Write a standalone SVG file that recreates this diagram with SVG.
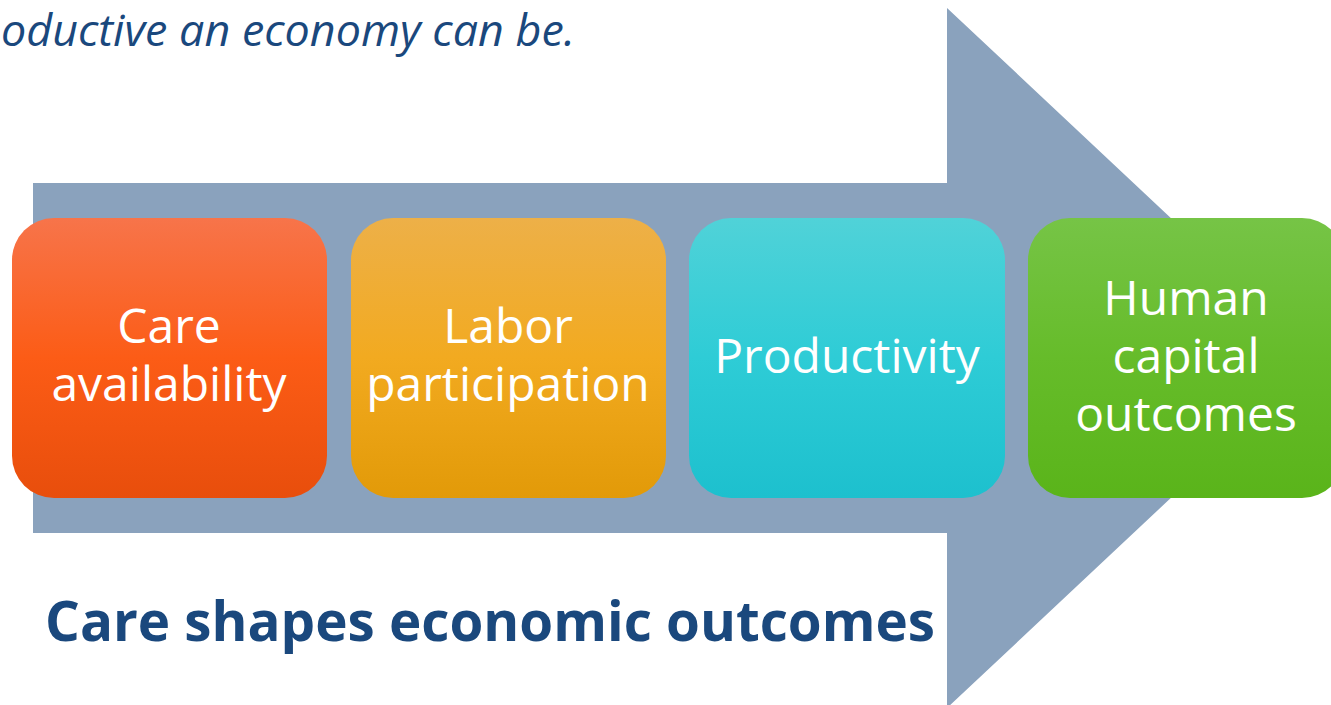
<svg xmlns="http://www.w3.org/2000/svg" width="1331" height="705" viewBox="0 0 1331 705">
  <defs>
    <linearGradient id="gOrange" x1="0" y1="0" x2="0" y2="1">
      <stop offset="0" stop-color="#F7744A"/>
      <stop offset="0.5" stop-color="#FC5C16"/>
      <stop offset="1" stop-color="#E84E0C"/>
    </linearGradient>
    <linearGradient id="gYellow" x1="0" y1="0" x2="0" y2="1">
      <stop offset="0" stop-color="#EDB048"/>
      <stop offset="0.5" stop-color="#F2AA20"/>
      <stop offset="1" stop-color="#E29A08"/>
    </linearGradient>
    <linearGradient id="gCyan" x1="0" y1="0" x2="0" y2="1">
      <stop offset="0" stop-color="#50D2D8"/>
      <stop offset="0.5" stop-color="#2ECCD6"/>
      <stop offset="1" stop-color="#1DC0CE"/>
    </linearGradient>
    <linearGradient id="gGreen" x1="0" y1="0" x2="0" y2="1">
      <stop offset="0" stop-color="#76C446"/>
      <stop offset="0.5" stop-color="#66BC2A"/>
      <stop offset="1" stop-color="#5AB41A"/>
    </linearGradient>
  </defs>
  <style>
    .box { stroke: none; }
    .lbl { font-family: "Open Sans", "Liberation Sans", sans-serif; font-size: 48px; fill: #FFFFFF; text-anchor: middle; }
    .title { font-family: "Open Sans", "Liberation Sans", sans-serif; font-weight: bold; font-size: 56px; fill: #1A487D; }
    .top { font-family: "Open Sans", "Liberation Sans", sans-serif; font-style: italic; font-size: 43px; fill: #1A487D; }
  </style>
  <rect width="1331" height="705" fill="#FFFFFF"/>
  <text class="top" x="1" y="46" textLength="574" lengthAdjust="spacingAndGlyphs">oductive an economy can be.</text>
  <g id="arrow">
    <polygon points="33,183 947,183 947,8 1320,358 947,708 947,533 33,533" fill="#8AA2BD"/>
  </g>
  <g id="connectors"></g>
  <g id="node-care">
    <rect class="box" x="12" y="218" width="315" height="280" rx="42" fill="url(#gOrange)"/>
    <text class="lbl"><tspan x="169" y="343">Care</tspan><tspan x="169" y="401">availability</tspan></text>
  </g>
  <g id="node-labor">
    <rect class="box" x="351" y="218" width="315" height="280" rx="42" fill="url(#gYellow)"/>
    <text class="lbl"><tspan x="508" y="343">Labor</tspan><tspan x="508" y="401">participation</tspan></text>
  </g>
  <g id="node-productivity">
    <rect class="box" x="689" y="218" width="316" height="280" rx="42" fill="url(#gCyan)"/>
    <text class="lbl" x="847" y="373">Productivity</text>
  </g>
  <g id="node-human">
    <rect class="box" x="1028" y="218" width="316" height="280" rx="42" fill="url(#gGreen)"/>
    <text class="lbl"><tspan x="1186" y="315">Human</tspan><tspan x="1186" y="373">capital</tspan><tspan x="1186" y="431">outcomes</tspan></text>
  </g>
  <text class="title" x="45" y="641" textLength="890" lengthAdjust="spacingAndGlyphs">Care shapes economic outcomes</text>
</svg>
